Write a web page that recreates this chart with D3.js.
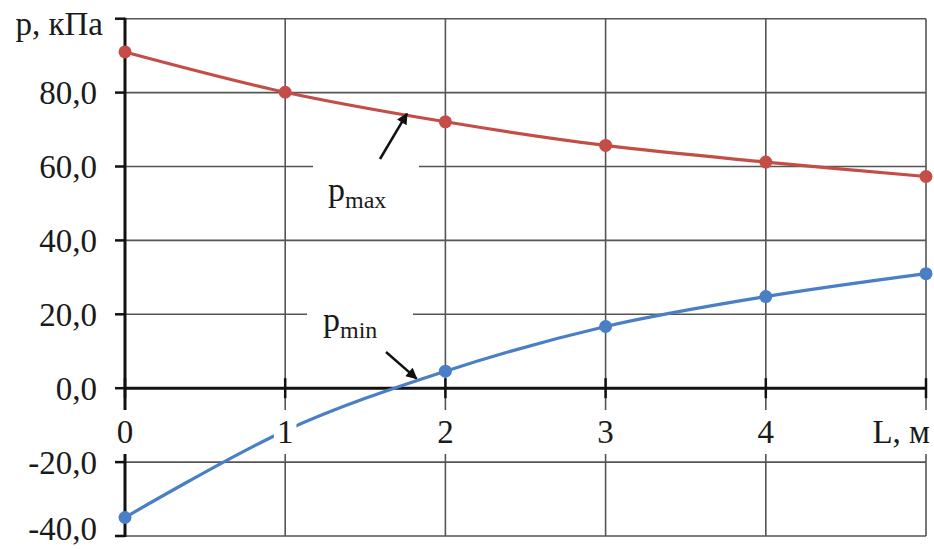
<!DOCTYPE html>
<html>
<head>
<meta charset="utf-8">
<script src="https://cdn.jsdelivr.net/npm/d3@7"></script>
<style>
  html, body { margin: 0; padding: 0; background: #fff; }
  svg { display: block; }
  text { font-family: "Liberation Serif", "Times New Roman", serif; fill: #1a1a1a; }
</style>
</head>
<body>
<svg id="chart" width="934" height="549"></svg>
<script>
// Pressure along the length L
const lengths = [0, 1, 2, 3, 4, 5];
const pMax = [91.0, 80.1, 72.1, 65.7, 61.2, 57.3];
const pMin = [-35.0, -11.5, 4.6, 16.7, 24.8, 31.0];
const yTicks = [-40, -20, 0, 20, 40, 60, 80, 100];
const yTickLabels = ["-40,0", "-20,0", "0,0", "20,0", "40,0", "60,0", "80,0", "p, кПа"];
const xTicks = [0, 1, 2, 3, 4, 5];
const xTickLabels = ["0", "1", "2", "3", "4", "L, м"];

const svg = d3.select("#chart");

const x = d3.scaleLinear().domain([0, 5]).range([125, 926]);
const y = d3.scaleLinear().domain([-40, 100]).range([536, 18.7]);

const gridColor = "#555";
const redColor = "#c44d48";
const blueColor = "#4a7fc6";

// Grid
const grid = svg.append("g");
grid.selectAll("line.h").data(yTicks.filter(v => v !== 0)).join("line")
  .attr("x1", x(0)).attr("x2", x(5))
  .attr("y1", d => y(d)).attr("y2", d => y(d))
  .attr("stroke", gridColor).attr("stroke-width", 1.6);
grid.selectAll("line.v").data(xTicks.filter(v => v !== 0)).join("line")
  .attr("x1", d => x(d)).attr("x2", d => x(d))
  .attr("y1", y(100)).attr("y2", y(-40))
  .attr("stroke", gridColor).attr("stroke-width", 1.6);

// Axes
const axes = svg.append("g");
axes.append("line")
  .attr("x1", x(0)).attr("x2", x(0)).attr("y1", y(100) - 1).attr("y2", y(-40) + 1)
  .attr("stroke", "#111").attr("stroke-width", 3);
axes.append("line")
  .attr("x1", x(0)).attr("x2", x(5)).attr("y1", y(0)).attr("y2", y(0))
  .attr("stroke", "#111").attr("stroke-width", 3);
axes.selectAll("line.yt").data(yTicks).join("line")
  .attr("x1", x(0) - 10).attr("x2", x(0))
  .attr("y1", d => y(d)).attr("y2", d => y(d))
  .attr("stroke", "#111").attr("stroke-width", 2.5);
axes.selectAll("line.xt").data(xTicks).join("line")
  .attr("x1", d => x(d)).attr("x2", d => x(d))
  .attr("y1", y(0) - 10).attr("y2", y(0) + 10)
  .attr("stroke", "#111").attr("stroke-width", 2.5);

// Series
const line = d3.line()
  .x((d, i) => x(lengths[i]))
  .y(d => y(d))
  .curve(d3.curveCardinal.tension(0));

const series = [
  { values: pMax, color: redColor },
  { values: pMin, color: blueColor }
];
const sg = svg.append("g");
series.forEach(s => {
  sg.append("path").attr("d", line(s.values))
    .attr("fill", "none").attr("stroke", s.color).attr("stroke-width", 3.2);
  sg.selectAll(null).data(s.values).join("circle")
    .attr("cx", (d, i) => x(lengths[i])).attr("cy", d => y(d))
    .attr("r", 6.5).attr("fill", s.color);
});

// Text with a white box behind it
function boxedText(parent, tx, ty, str, anchor, padX, padY) {
  const g = parent.append("g");
  const t = g.append("text").attr("x", tx).attr("y", ty)
    .attr("text-anchor", anchor).attr("font-size", 33).text(str);
  const b = t.node().getBBox();
  g.insert("rect", "text")
    .attr("x", b.x - padX).attr("y", b.y - padY)
    .attr("width", b.width + 2 * padX).attr("height", b.height + 2 * padY)
    .attr("fill", "#fff");
  return g;
}

// Y tick labels
const yl = svg.append("g");
yTicks.forEach((v, i) => {
  if (v === 100) {
    yl.append("text").attr("x", 103).attr("y", 35)
      .attr("text-anchor", "end").attr("font-size", 33).text(yTickLabels[i]);
  } else {
    yl.append("text").attr("x", 97).attr("y", Math.min(y(v) + 11.5, 540))
      .attr("text-anchor", "end").attr("font-size", 33).text(yTickLabels[i]);
  }
});

// X tick labels
const xl = svg.append("g");
xTicks.forEach((v, i) => {
  if (v === 5) {
    boxedText(xl, 930, 443, xTickLabels[i], "end", 2, 4);
  } else {
    boxedText(xl, x(v), 443, xTickLabels[i], "middle", 3, 4);
  }
});

// Curve annotations
const defs = svg.append("defs");
defs.append("marker").attr("id", "arrow")
  .attr("viewBox", "0 0 10 10").attr("refX", 9).attr("refY", 5)
  .attr("markerWidth", 5).attr("markerHeight", 4.5)
  .attr("markerUnits", "strokeWidth").attr("orient", "auto")
  .append("path").attr("d", "M0,0 L10,5 L0,10 Z").attr("fill", "#111");

function curveLabel(bx, by, bw, bh, tx, ty, sub) {
  const g = svg.append("g");
  g.append("rect").attr("x", bx).attr("y", by).attr("width", bw).attr("height", bh).attr("fill", "#fff");
  const t = g.append("text").attr("x", tx).attr("y", ty).attr("font-size", 34);
  t.append("tspan").text("p");
  t.append("tspan").attr("font-size", 24).attr("dy", 7).text(sub);
}

curveLabel(313, 158, 106, 58, 328, 201, "max");
curveLabel(307, 300, 106, 46, 323, 331, "min");

svg.append("line")
  .attr("x1", 380).attr("y1", 159).attr("x2", x(1.76)).attr("y2", y(74.3))
  .attr("stroke", "#111").attr("stroke-width", 2.5).attr("marker-end", "url(#arrow)");
svg.append("line")
  .attr("x1", 386).attr("y1", 352).attr("x2", x(1.82)).attr("y2", y(2.6))
  .attr("stroke", "#111").attr("stroke-width", 2.5).attr("marker-end", "url(#arrow)");
</script>
</body>
</html>
